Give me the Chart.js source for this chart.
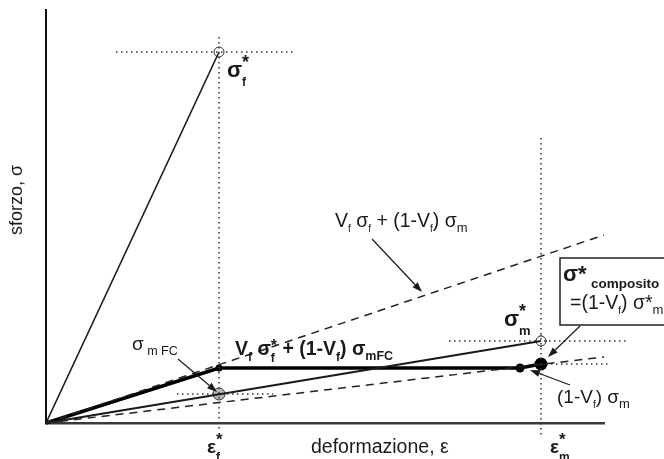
<!DOCTYPE html>
<html>
<head>
<meta charset="utf-8">
<script src="https://cdn.jsdelivr.net/npm/chart.js@4.4.1/dist/chart.umd.min.js"></script>
<style>
html,body{margin:0;padding:0;background:#fff;}
#wrap{width:664px;height:459px;}
</style>
</head>
<body>
<div id="wrap"><canvas id="c" width="664" height="459"></canvas></div>
<script>
// ---- data (arbitrary strain / stress units) ----
const axisMax = [558, 413];            // x (strain) max, y (stress) max
const fiberX = [0, 173];               // fibre: up to eps*f, sigma*f
const fiberY = [0, 371];
const matrixX = [0, 495];              // matrix: up to eps*m, sigma*m
const matrixY = [0, 82];
const compositeX = [0, 173, 474, 495]; // composite response
const compositeY = [0, 55, 55, 59];
const ruleUpperX = [0, 558];           // Vf sf + (1-Vf) sm
const ruleUpperY = [0, 188];
const ruleLowerX = [0, 558];           // (1-Vf) sm
const ruleLowerY = [0, 66];
const sigmaMFC = [173, 29];            // matrix stress at fibre failure
const epsF = 173, epsM = 495;
const sigF = 371, sigM = 82, sigComp = 59, sigPlateau = 55;

// guide (dotted) lines
const guides = [
  [[70, sigF], [249, sigF]],
  [[epsF, 386], [epsF, -7]],
  [[epsM, 285], [epsM, -15]],
  [[403, sigM], [581, sigM]],
  [[epsM, sigComp], [563, sigComp]],
  [[131, sigmaMFC[1]], [227, sigmaMFC[1]]]
];

const FONT = '"Liberation Sans", Arial, sans-serif';
const INK = '#1a1a1a';

function pts(xs, ys){ return xs.map((x,i)=>({x:x, y:ys[i]})); }

const datasets = [];
guides.forEach(g=>{
  datasets.push({data: g.map(p=>({x:p[0],y:p[1]})), showLine:true, borderColor:'#333', borderWidth:1.5,
    borderDash:[1.5,3.5], pointRadius:0, clip:false});
});
datasets.push({data: pts(ruleUpperX, ruleUpperY), showLine:true, borderColor:'#222', borderWidth:1.5, borderDash:[8,6], pointRadius:0, clip:false});
datasets.push({data: pts(ruleLowerX, ruleLowerY), showLine:true, borderColor:'#222', borderWidth:1.5, borderDash:[8,6], pointRadius:0, clip:false});
datasets.push({data: pts(fiberX, fiberY), showLine:true, borderColor:INK, borderWidth:1.6, pointRadius:0, clip:false});
datasets.push({data: pts(matrixX, matrixY), showLine:true, borderColor:INK, borderWidth:2, pointRadius:0, clip:false});
datasets.push({data: pts(compositeX, compositeY), showLine:true, borderColor:'#000', borderWidth:3.5, pointRadius:0, clip:false});
// markers
datasets.push({data:[{x:epsF,y:sigF},{x:epsM,y:sigM}], showLine:false, pointStyle:'circle', pointRadius:5, pointBackgroundColor:'#fff', pointBorderColor:'#333', pointBorderWidth:1, clip:false});
datasets.push({data:[{x:epsF,y:sigF},{x:epsM,y:sigM}], showLine:false, pointStyle:'cross', pointRadius:5, pointBorderColor:'#333', pointBorderWidth:1, clip:false});
datasets.push({data:[{x:epsM,y:sigM}], showLine:false, pointStyle:'rectRot', pointRadius:6, pointBackgroundColor:'rgba(0,0,0,0)', pointBorderColor:'#555', pointBorderWidth:1, clip:false});
datasets.push({data:[{x:sigmaMFC[0],y:sigmaMFC[1]}], showLine:false, pointStyle:'circle', pointRadius:6, pointBackgroundColor:'#b8b8b8', pointBorderColor:'#333', pointBorderWidth:1, clip:false});
datasets.push({data:[{x:epsF,y:sigPlateau}], showLine:false, pointRadius:3.5, pointBackgroundColor:'#000', pointBorderWidth:0, clip:false});
datasets.push({data:[{x:compositeX[2],y:compositeY[2]}], showLine:false, pointRadius:4.5, pointBackgroundColor:'#000', pointBorderWidth:0, clip:false});
datasets.push({data:[{x:epsM,y:sigComp}], showLine:false, pointRadius:6.5, pointBackgroundColor:'#000', pointBorderWidth:0, clip:false});

// annotations (positions in data units)
const arrows = [
  [[326,184],[376,131]],
  [[132,64],[171,31]],
  [[534,97],[502,66]],
  [[524,38],[484,53]]
];
const B = 'bold ', N = '';
function f(w, s){ return w + s + 'px ' + FONT; }
const labels = [
  {at:[181,346], segs:[['σ',f(B,22),0],['*',f(B,18),-9],['f',f(B,12),9,true]]},
  {at:[458,97], segs:[['σ',f(B,22),0],['*',f(B,18),-9],['m',f(B,13),9,true]]},
  {at:[289,196], segs:[['V',f(N,19.5),0],['f',f(N,10),5],[' σ',f(N,19.5),0],['f',f(N,10),5],[' + (1-V',f(N,19.5),0],['f',f(N,10),5],[') σ',f(N,19.5),0],['m',f(N,13),5]]},
  {at:[189,68], segs:[['V',f(B,19.5),0],['f',f(B,12),6],[' σ',f(B,19.5),0],['*',f(B,16),-4],['f',f(B,12),7,true],[' + (1-V',f(B,19.5),0],['f',f(B,12),6],[') σ',f(B,19.5),0],['mFC',f(B,12.5),5]]},
  {at:[86,73], segs:[['σ',f(N,19),0],[' m FC',f(N,12.5),5]]},
  {at:[511,20], segs:[['(1-V',f(N,19),0],['f',f(N,10),5],[') σ',f(N,19),0],['m',f(N,13),5]]},
  {at:[161,-30], segs:[['ε',f(B,19),0],['*',f(B,17),-8],['f',f(B,12),8,true]]},
  {at:[504,-30], segs:[['ε',f(B,19),0],['*',f(B,17),-8],['m',f(B,12),8,true]]},
  {at:[265,-30], segs:[['deformazione, ε',f(N,19.5),0]]}
];
const box = {x0:514, y0:165, x1:680, y1:98};
const boxLabels = [
  {at:[517,142], segs:[['σ*',f(B,22),0]]},
  {at:[545,135], segs:[['composito',f(B,13.5),0]]},
  {at:[524,114], segs:[['=(1-V',f(N,19.5),0],['f',f(N,10),5],[') σ*',f(N,19.5),0],['m',f(N,13),5]]}
];
const yTitle = {at:[-24,223], text:'sforzo, σ'};

function rich(ctx, x, y, segs){
  let cx = x, prev = x;
  ctx.textBaseline = 'alphabetic'; ctx.textAlign = 'left';
  segs.forEach(s=>{
    ctx.font = s[1];
    const start = s[3] ? prev : cx;
    ctx.fillText(s[0], start, y + s[2]);
    prev = start;
    cx = Math.max(cx, start + ctx.measureText(s[0]).width);
  });
}

const overlay = {
  id:'overlay',
  beforeDraw(chart){
    const ctx = chart.ctx; ctx.save(); ctx.fillStyle='#fff'; ctx.fillRect(0,0,chart.width,chart.height); ctx.restore();
  },
  afterDatasetsDraw(chart){
    const ctx = chart.ctx, xs = chart.scales.x, ys = chart.scales.y;
    const P = (p)=>[xs.getPixelForValue(p[0]), ys.getPixelForValue(p[1])];
    ctx.save();
    // arrows
    ctx.strokeStyle = INK; ctx.fillStyle = INK; ctx.lineWidth = 1.2;
    arrows.forEach(a=>{
      const [x0,y0] = P(a[0]), [x1,y1] = P(a[1]);
      const ang = Math.atan2(y1-y0, x1-x0), L = 10, W = 3.5;
      const bx = x1 - L*Math.cos(ang), by = y1 - L*Math.sin(ang);
      ctx.beginPath(); ctx.moveTo(x0,y0); ctx.lineTo(bx,by); ctx.stroke();
      ctx.beginPath(); ctx.moveTo(x1,y1);
      ctx.lineTo(bx + W*Math.sin(ang), by - W*Math.cos(ang));
      ctx.lineTo(bx - W*Math.sin(ang), by + W*Math.cos(ang));
      ctx.closePath(); ctx.fill();
    });
    // box
    const [bx0,by0] = P([box.x0,box.y0]), [bx1,by1] = P([box.x1,box.y1]);
    ctx.fillStyle = '#fff'; ctx.fillRect(bx0,by0,bx1-bx0,by1-by0);
    ctx.strokeStyle = '#222'; ctx.lineWidth = 1.5; ctx.strokeRect(bx0,by0,bx1-bx0,by1-by0);
    ctx.fillStyle = INK;
    labels.concat(boxLabels).forEach(l=>{ const [x,y] = P(l.at); rich(ctx, x, y, l.segs); });
    // y title
    const [tx,ty] = P(yTitle.at);
    ctx.translate(tx,ty); ctx.rotate(-Math.PI/2);
    ctx.font = f(N,18); ctx.textAlign='center'; ctx.textBaseline='alphabetic';
    ctx.fillText(yTitle.text, 0, 0);
    ctx.restore();
  }
};

new Chart(document.getElementById('c'), {
  type:'scatter',
  data:{datasets:datasets},
  options:{
    responsive:false, animation:false, devicePixelRatio:1,
    layout:{padding:{left:46, right:60, top:10, bottom:36}},
    plugins:{legend:{display:false}, tooltip:{enabled:false}},
    events:[],
    scales:{
      x:{type:'linear', min:0, max:axisMax[0], ticks:{display:false},
         grid:{display:false, drawTicks:false, tickLength:0},
         border:{display:true, color:'#3a3a3a', width:2.5}},
      y:{type:'linear', min:0, max:axisMax[1], ticks:{display:false},
         grid:{display:false, drawTicks:false, tickLength:0},
         border:{display:true, color:'#111', width:2}}
    }
  },
  plugins:[overlay]
});
</script>
</body>
</html>
